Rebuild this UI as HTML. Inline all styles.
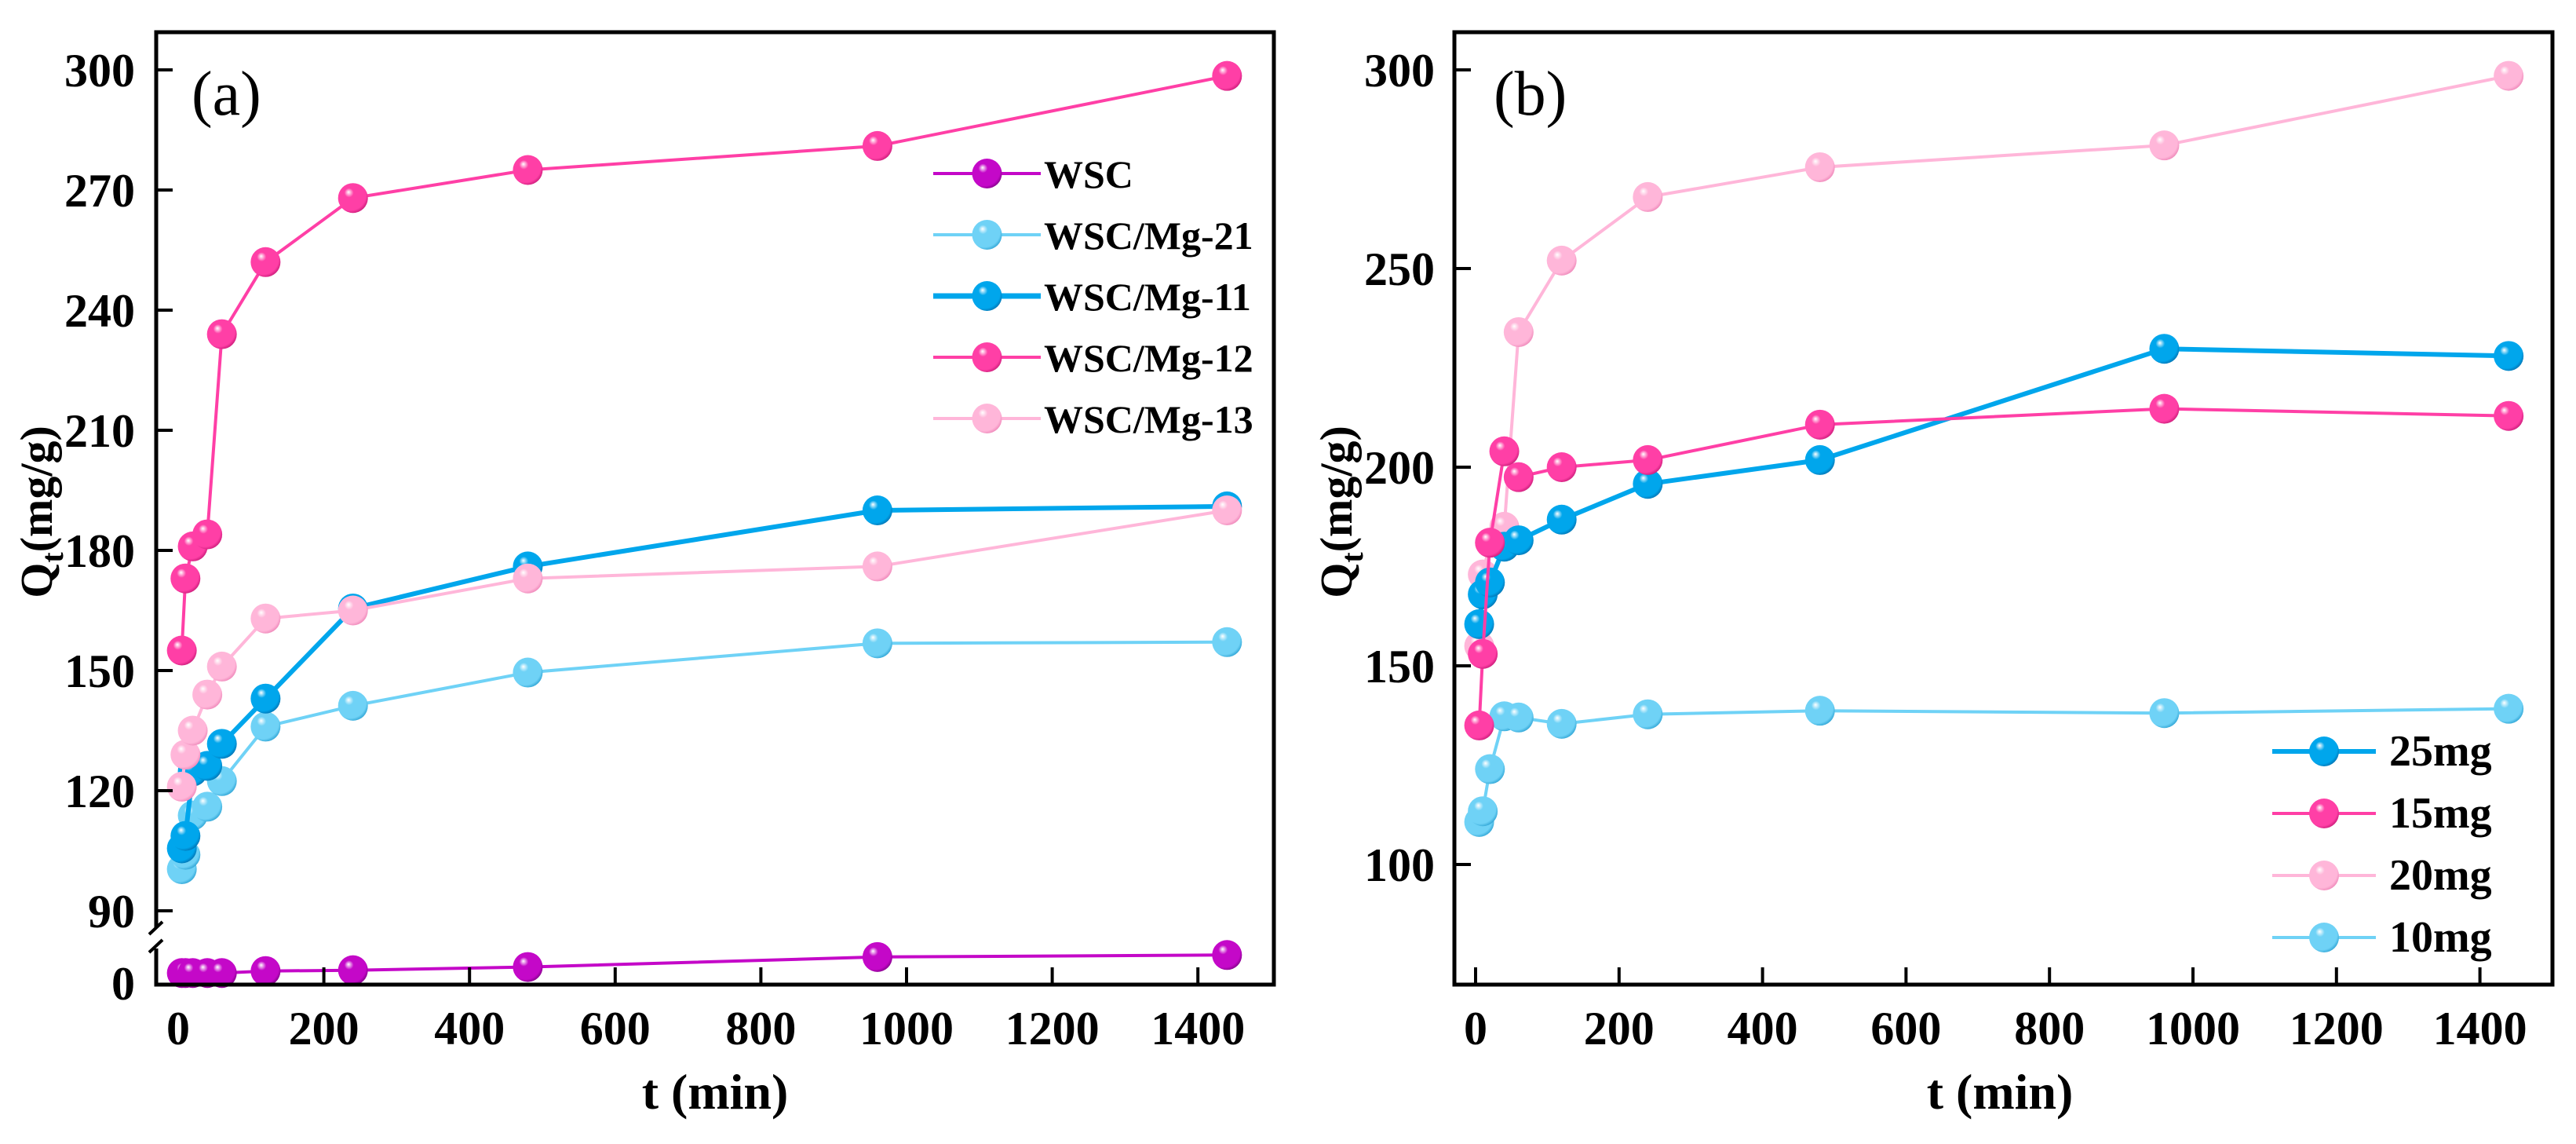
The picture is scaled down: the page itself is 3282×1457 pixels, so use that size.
<!DOCTYPE html>
<html><head><meta charset="utf-8">
<style>
html,body{margin:0;padding:0;background:#fff;}
svg{display:block;font-family:"Liberation Serif","Times New Roman",serif;}
.tick{font-size:60px;font-weight:bold;fill:#000;}
.leg{font-size:50px;font-weight:bold;fill:#000;}
.legb{font-size:56px;font-weight:bold;fill:#000;}
</style></head>
<body>
<svg id="chart" width="3282" height="1457" viewBox="0 0 3282 1457" xmlns="http://www.w3.org/2000/svg">
<defs id="defs"></defs>
</svg>
<script>
// ---- data ----
const timesA = [5,10,20,40,60,120,240,480,960,1440];
const wsc    = [2.5,2.5,2.5,2.5,2.5,3,3.2,4,6.5,7];
const mg21   = [100.4,104,113.8,116,122.4,136,141.2,149.5,156.8,157.1];
const mg11   = [105.6,108.7,124.8,126.2,131.7,143,165.5,176,190,191];
const mg12   = [155,173,181,184,234,252,268,275,281,298.5];
const mg13   = [121,129,135,144,151,163,165,173,176,190];
const yTicksA = [90,120,150,180,210,240,270,300];
const xTicks  = [0,200,400,600,800,1000,1200,1400];

const timesB = [5,10,20,40,60,120,240,480,960,1440];
const mg25 = [160.5,168,171,180,181.6,186.8,195.8,201.8,229.8,228];
const mg15 = [135,153,181,204,197.5,200,201.8,210.7,214.7,212.9];
const mg20 = [155,173,181,185,234,252,268,275.5,281,298.5];
const mg10 = [110.7,113.4,124,137.3,137,135.4,137.8,138.7,138.1,139.2];
const yTicksB = [100,150,200,250,300];

const NS="http://www.w3.org/2000/svg";
const svg=document.getElementById('chart');
const defs=document.getElementById('defs');
function el(tag,attrs,parent){const e=document.createElementNS(NS,tag);for(const k in attrs)e.setAttribute(k,attrs[k]);(parent||svg).appendChild(e);return e;}

const colors={wsc:'#c408c8',c21:'#6fd2f6',c11:'#00a6ec',c12:'#ff3fa6',c13:'#ffb6d9'};
const dark={wsc:'#8a0090',c21:'#36a9d8',c11:'#0078b8',c12:'#d0207e',c13:'#f08cbc'};
for(const k in colors){
  const g=el('radialGradient',{id:'g_'+k,cx:'0.42',cy:'0.4',r:'0.62',fx:'0.35',fy:'0.3'},defs);
  el('stop',{offset:'0','stop-color':'#ffffff'},g);
  el('stop',{offset:'0.25','stop-color':colors[k]},g);
  el('stop',{offset:'0.85','stop-color':colors[k]},g);
  el('stop',{offset:'1','stop-color':dark[k]},g);
}

// ---- axes functions ----
const xA=t=>227+t*0.928;
const yA=v=>v>=50? 89+(300-v)*5.1 : 1252-v*5.1;
const xB=t=>1880+t*0.914;
const yB=v=>89+(300-v)*5.06;
const R=19;

function series(times,vals,xf,yf,key,w,name){
  const g=el('g',{});
  
  
  const pts=times.map((t,i)=>xf(t).toFixed(1)+','+yf(vals[i]).toFixed(1)).join(' ');
  const pl=el('polyline',{points:pts,fill:'none',stroke:colors[key],'stroke-width':w,'stroke-linejoin':'round'},g);
  
  
  times.forEach((t,i)=>{
    const c=el('circle',{cx:xf(t),cy:yf(vals[i]),r:R,fill:'url(#g_'+key+')'},g);
    
    
  });
}
function legend(x1,x2,y,tx,key,w,label,name,cls){
  const g=el('g',{});
  
  
  el('line',{x1:x1,x2:x2,y1:y,y2:y,stroke:colors[key],'stroke-width':w},g);
  el('circle',{cx:(x1+x2)/2,cy:y,r:R,fill:'url(#g_'+key+')'},g);
  const t=el('text',{x:tx,y:y+18,class:cls},g);t.textContent=label;
}
function ytitle(x,y,name){
  const t=el('text',{transform:`translate(${x},${y}) rotate(-90)`,'text-anchor':'middle','font-size':'58','font-weight':'bold'});
  
  
  t.innerHTML='Q<tspan font-size="40" dy="14">t</tspan><tspan dy="-14">(mg/g)</tspan>';
}

// ===== Panel A =====
series(timesA,wsc,xA,yA,'wsc',4,'series-wsc');
series(timesA,mg21,xA,yA,'c21',4,'series-wsc-mg-21');
series(timesA,mg11,xA,yA,'c11',6,'series-wsc-mg-11');
series(timesA,mg13,xA,yA,'c13',4,'series-wsc-mg-13');
series(timesA,mg12,xA,yA,'c12',4,'series-wsc-mg-12');
let fa=el('path',{d:'M199,1181 V41 H1623 V1254 H199 V1208',fill:'none',stroke:'#000','stroke-width':5});

el('line',{x1:190,y1:1190,x2:207,y2:1174,stroke:'#000','stroke-width':4});
el('line',{x1:190,y1:1213,x2:207,y2:1197,stroke:'#000','stroke-width':4});
yTicksA.forEach(v=>{
  el('line',{x1:199,x2:220,y1:yA(v),y2:yA(v),stroke:'#000','stroke-width':4});
  const t=el('text',{x:172,y:yA(v)+21,'text-anchor':'end',class:'tick'});t.textContent=v;
  
});
{const t=el('text',{x:172,y:1273,'text-anchor':'end',class:'tick'});t.textContent='0';}
xTicks.forEach(v=>{
  if(v>0) el('line',{x1:xA(v),x2:xA(v),y1:1254,y2:1232,stroke:'#000','stroke-width':4});
  const t=el('text',{x:xA(v),y:1330,'text-anchor':'middle',class:'tick'});t.textContent=v;
  
});
{const t=el('text',{x:911,y:1412,'text-anchor':'middle','font-size':'64','font-weight':'bold'});t.textContent='t (min)';
}
ytitle(66,652,'y-axis-title-a');
{const t=el('text',{x:244,y:146,'font-size':'80'});t.textContent='(a)';
}
legend(1189,1326,221,1330,'wsc',4,'WSC','legend-entry-wsc','leg');
legend(1189,1326,299,1330,'c21',4,'WSC/Mg-21','legend-entry-wsc-mg-21','leg');
legend(1189,1326,377,1330,'c11',7,'WSC/Mg-11','legend-entry-wsc-mg-11','leg');
legend(1189,1326,455,1330,'c12',4,'WSC/Mg-12','legend-entry-wsc-mg-12','leg');
legend(1189,1326,533,1330,'c13',4,'WSC/Mg-13','legend-entry-wsc-mg-13','leg');

// ===== Panel B =====
series(timesB,mg10,xB,yB,'c21',4,'series-10mg');
series(timesB,mg20,xB,yB,'c13',4,'series-20mg');
series(timesB,mg25,xB,yB,'c11',6,'series-25mg');
series(timesB,mg15,xB,yB,'c12',4,'series-15mg');
let fb=el('rect',{x:1853,y:41,width:1399,height:1213,fill:'none',stroke:'#000','stroke-width':5});

yTicksB.forEach(v=>{
  el('line',{x1:1853,x2:1874,y1:yB(v),y2:yB(v),stroke:'#000','stroke-width':4});
  const t=el('text',{x:1828,y:yB(v)+21,'text-anchor':'end',class:'tick'});t.textContent=v;
  
});
xTicks.forEach(v=>{
  el('line',{x1:xB(v),x2:xB(v),y1:1254,y2:1232,stroke:'#000','stroke-width':4});
  const t=el('text',{x:xB(v),y:1330,'text-anchor':'middle',class:'tick'});t.textContent=v;
  
});
{const t=el('text',{x:2548,y:1412,'text-anchor':'middle','font-size':'64','font-weight':'bold'});t.textContent='t (min)';
}
ytitle(1722,652,'y-axis-title-b');
{const t=el('text',{x:1903,y:146,'font-size':'80'});t.textContent='(b)';
}
legend(2895,3027,957,3044,'c11',6,'25mg','legend-entry-25mg','legb');
legend(2895,3027,1036,3044,'c12',4,'15mg','legend-entry-15mg','legb');
legend(2895,3027,1115,3044,'c13',4,'20mg','legend-entry-20mg','legb');
legend(2895,3027,1194,3044,'c21',4,'10mg','legend-entry-10mg','legb');
</script>
</body></html>
